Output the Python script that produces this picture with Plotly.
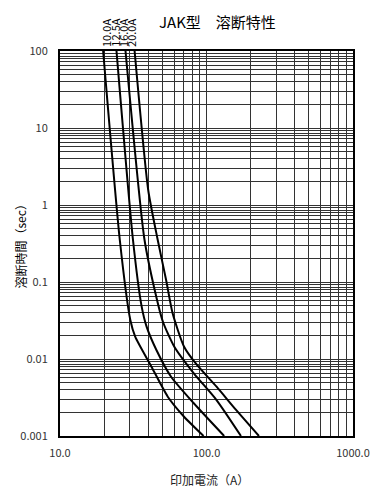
import numpy as np
import plotly.graph_objects as go

# ---- data ----
labels = ["10.0A", "12.5A", "16.0A", "20.0A"]

c10_x = [19.7, 25.6, 30.2, 32.6, 42.1, 54.4, 70.3, 95.5]
c10_y = [100, 0.351, 0.0321, 0.0195, 0.00794, 0.00324, 0.00178, 0.001]

c125_x = [24.3, 31.4, 36.1, 39.0, 45.5, 57.3, 81.9, 132.0]
c125_y = [100, 0.37, 0.0478, 0.0263, 0.0131, 0.00589, 0.00266, 0.001]

c16_x = [28.0, 37.6, 44.3, 50.4, 60.3, 81.9, 117.1, 171.9]
c16_y = [100, 0.37, 0.0787, 0.0305, 0.01444, 0.00652, 0.00293, 0.001]

c20_x = [32.3, 40.0, 46.2, 53.0, 58.7, 70.3, 86.1, 117.1, 159.2, 228.0]
c20_y = [100, 1.566, 0.37, 0.106, 0.0392, 0.01444, 0.00836, 0.00437, 0.00218, 0.001]

label_x = [20.6, 23.6, 26.9, 30.5]

x_major = [10, 100, 1000]
x_major_text = ["10.0", "100.0", "1000.0"]
y_major = [0.001, 0.01, 0.1, 1, 10, 100]
y_major_text = ["0.001", "0.01", "0.1", "1", "10", "100"]
y_minor_mult = [2, 3, 4, 5, 5.8, 6.5, 7.2, 7.9, 8.6, 9.3]
x_minor_mult = [2, 3, 4, 5, 6, 7, 8, 9]

# ---- build tick arrays ----
xt, xtt = [], []
for i, d in enumerate(x_major):
    xt.append(d); xtt.append(x_major_text[i])
    if d < 1000:
        for m in x_minor_mult:
            xt.append(d * m); xtt.append("")
yt, ytt = [], []
for i, d in enumerate(y_major):
    yt.append(d); ytt.append(y_major_text[i])
    if d < 100:
        for m in y_minor_mult:
            yt.append(d * m); ytt.append("")

FONT = "Noto Sans CJK JP"
fig = go.Figure()
for xs, ys in [(c10_x, c10_y), (c125_x, c125_y), (c16_x, c16_y), (c20_x, c20_y)]:
    fig.add_trace(go.Scatter(x=xs, y=ys, mode="lines",
                             line=dict(color="black", width=2, shape="spline", smoothing=0.6),
                             showlegend=False, hoverinfo="skip"))

for lx, lt in zip(label_x, labels):
    fig.add_annotation(x=np.log10(lx), y=1, xref="x", yref="paper", text=lt,
                       textangle=-90, showarrow=False, xanchor="center", yanchor="bottom",
                       yshift=2, font=dict(family=FONT, size=11, color="black"))

fig.add_annotation(x=0.537, y=1, xref="paper", yref="paper", text="JAK型　溶断特性",
                   showarrow=False, xanchor="center", yanchor="top", yshift=42,
                   font=dict(family=FONT, size=15, color="black"))
fig.add_annotation(x=0.51, y=0, xref="paper", yref="paper", text="印加電流（A）",
                   showarrow=False, xanchor="center", yanchor="middle", yshift=-43,
                   font=dict(family=FONT, size=12, color="#222"))
fig.add_annotation(x=0, y=0.5, xref="paper", yref="paper", text="溶断時間（sec）",
                   showarrow=False, textangle=-90, xanchor="center", yanchor="middle",
                   xshift=-40, font=dict(family=FONT, size=12, color="black"))

fig.update_xaxes(type="log", range=[1, 3], tickvals=xt, ticktext=xtt,
                 showgrid=True, gridcolor="#333", gridwidth=1, ticks="",
                 showline=True, linecolor="black", linewidth=2, mirror=True,
                 zeroline=False, ticklabelstandoff=6,
                 tickfont=dict(family=FONT, size=11, color="#333"))
fig.update_yaxes(type="log", range=[-3, 2], tickvals=yt, ticktext=ytt,
                 showgrid=True, gridcolor="#333", gridwidth=1, ticks="",
                 showline=True, linecolor="black", linewidth=2, mirror=True,
                 zeroline=False, ticklabelstandoff=8,
                 tickfont=dict(family=FONT, size=11, color="#333"))
fig.update_layout(width=382, height=492, margin=dict(l=45, r=37, t=43, b=64),
                  paper_bgcolor="white", plot_bgcolor="white",
                  font=dict(family=FONT))
fig.write_html("out.html")
